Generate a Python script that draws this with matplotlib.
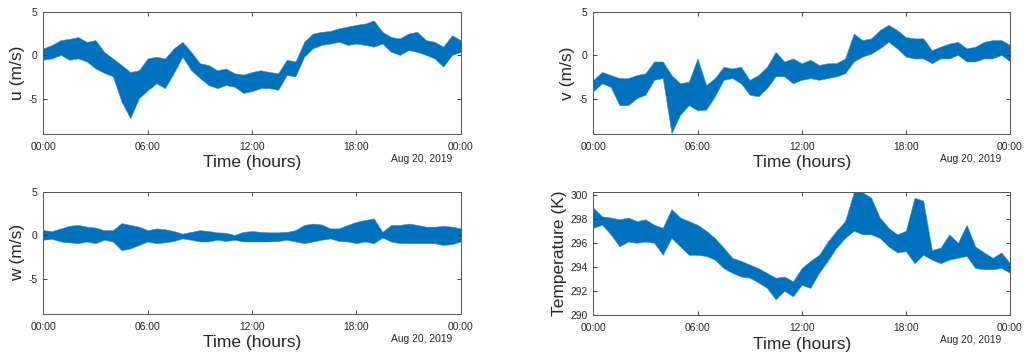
import numpy as np
import matplotlib
matplotlib.use("Agg")
import matplotlib.pyplot as plt

hours = np.arange(0, 24.5, 0.5)

u_hi = [0.8, 1.2, 1.75, 1.9, 2.1, 1.55, 1.75, 0.4, -0.35, -1.1, -1.9, -1.7, -0.35, -0.15, -0.35, 0.8, 1.55,
        0.4, -0.9, -1.1, -1.7, -1.5, -2.05, -2.2, -1.9, -1.7, -1.9, -2.05, -0.5, -0.7, 1.55, 2.5, 2.7, 2.8,
        3.1, 3.3, 3.5, 3.65, 4.0, 2.7, 2.1, 1.95, 2.5, 2.7, 1.75, 1.55, 1.0, 2.3, 1.75]
u_lo = [-0.5, -0.35, 0.05, -0.5, -0.35, -0.7, -1.5, -2.0, -2.4, -5.3, -7.2, -4.9, -4.0, -3.2, -3.75, -2.05,
        -0.15, -1.7, -2.6, -3.4, -3.75, -3.4, -3.6, -4.3, -4.1, -3.75, -3.75, -3.95, -2.25, -2.4, -0.15, 0.8,
        1.2, 1.35, 1.55, 1.2, 1.35, 1.2, 1.0, 1.35, 0.4, 0.05, 0.6, 0.4, 0.05, -0.35, -1.3, 0.05, 0.4]

v_hi = [-2.8, -1.9, -2.25, -2.6, -2.6, -2.25, -2.05, -0.7, -0.7, -2.25, -3.2, -3.0, -0.35, -3.4, -2.6, -1.3,
        -1.5, -1.3, -2.8, -2.25, -1.3, 0.4, -0.7, -0.35, -0.9, -0.5, -1.1, -0.9, -0.9, -0.35, 2.5, 1.75, 1.95,
        2.9, 3.5, 2.9, 2.1, 1.95, 1.95, 0.6, 1.0, 1.35, 1.55, 0.8, 1.0, 1.55, 1.75, 1.75, 1.2]
v_lo = [-4.1, -3.2, -3.6, -5.7, -5.7, -4.9, -4.5, -2.8, -2.6, -8.9, -6.8, -5.7, -6.3, -6.2, -4.7, -2.8, -2.6,
        -3.2, -4.5, -4.7, -3.75, -2.4, -2.4, -3.2, -2.8, -2.6, -2.8, -2.6, -2.4, -2.05, -0.7, -0.15, 0.2, 0.8,
        1.55, 0.8, -0.15, -0.35, -0.35, -0.9, -0.35, -0.35, 0.05, -0.7, -0.7, -0.35, -0.35, 0.05, -0.7]

w_hi = [0.6, 0.5, 0.8, 1.1, 1.2, 1.0, 0.9, 0.6, 0.6, 1.4, 1.2, 1.0, 0.6, 0.8, 0.7, 0.5, 0.2, 0.4, 0.6, 0.5,
        0.35, 0.3, 0.05, 0.4, 0.5, 0.4, 0.35, 0.35, 0.4, 0.6, 1.2, 1.35, 1.25, 0.8, 0.8, 1.2, 1.55, 1.75, 1.95,
        0.4, 1.2, 1.2, 1.35, 1.2, 1.0, 1.0, 1.1, 1.0, 0.8]
w_lo = [-0.5, -0.4, -0.7, -0.8, -0.9, -0.7, -0.9, -0.5, -0.7, -1.7, -1.5, -1.1, -0.7, -0.9, -0.8, -0.65,
        -0.35, -0.5, -0.7, -0.7, -0.5, -0.65, -0.5, -0.7, -0.7, -0.7, -0.7, -0.65, -0.5, -0.7, -0.9, -0.7,
        -0.5, -0.35, -0.65, -0.7, -0.9, -0.7, -0.9, -0.25, -0.7, -0.9, -0.9, -0.9, -0.9, -0.9, -1.1, -1.0, -0.7]

T_hi = [298.9, 298.2, 298.1, 297.95, 298.1, 297.8, 297.95, 297.5, 297.25, 298.8, 298.1, 297.8, 297.5, 297.0,
        296.4, 295.6, 294.75, 294.5, 294.2, 293.9, 293.5, 293.1, 293.2, 292.8, 293.9, 294.5, 295.0, 296.1,
        297.0, 297.8, 300.2, 300.2, 299.75, 298.1, 297.25, 296.7, 297.0, 299.75, 299.5, 295.4, 295.6, 296.7,
        296.0, 297.5, 295.7, 295.2, 294.75, 295.2, 294.3]
T_lo = [297.25, 297.5, 296.7, 295.7, 296.1, 296.0, 296.1, 296.0, 295.0, 296.4, 295.7, 295.0, 295.0, 294.9,
        294.6, 293.9, 293.5, 293.2, 293.1, 292.7, 292.25, 291.3, 292.0, 291.55, 292.5, 292.25, 293.5, 294.5,
        295.6, 296.4, 297.0, 296.7, 296.7, 296.4, 295.7, 295.2, 295.3, 294.3, 295.0, 294.6, 294.3, 294.6,
        294.75, 294.9, 293.9, 293.8, 293.8, 293.9, 293.5]

xtick_pos = [0, 6, 12, 18, 24]
xtick_labels = ["00:00", "06:00", "12:00", "18:00", "00:00"]
date_label = "Aug 20, 2019"

plt.rcParams['font.family'] = ['Liberation Sans', 'DejaVu Sans']
plt.rcParams['axes.unicode_minus'] = False

line_color = '#0072BD'
text_color = '#262626'

fig = plt.figure(figsize=(10.26, 3.6), dpi=100)

panels = [
    # left, bottom, width, height, lo, hi, ylabel, ylim, yticks, ylabel x
    ([0.0422, 0.6278, 0.4068, 0.3397], u_lo, u_hi, "u (m/s)", (-9, 5), [-5, 0, 5], -0.061),
    ([0.5783, 0.6278, 0.4061, 0.3397], v_lo, v_hi, "v (m/s)", (-9, 5), [-5, 0, 5], -0.061),
    ([0.0422, 0.1278, 0.4068, 0.3397], w_lo, w_hi, "w (m/s)", (-9, 5), [-5, 0, 5], -0.061),
    ([0.5783, 0.1250, 0.4061, 0.3410], T_lo, T_hi, "Temperature (K)", (290, 300.2),
     [290, 292, 294, 296, 298, 300], -0.082),
]

for rect, lo, hi, ylab, ylim, yticks, ylab_x in panels:
    ax = fig.add_axes(rect)
    ax.fill_between(hours, lo, hi, color=line_color, lw=0.4, edgecolor='#3f8fcf')
    ax.set_xlim(0, 24)
    ax.set_ylim(*ylim)
    ax.set_xticks(xtick_pos)
    ax.set_xticklabels(xtick_labels)
    ax.set_yticks(yticks)
    ax.set_yticklabels([str(t) for t in yticks])
    ax.tick_params(direction='in', length=3, width=0.6, top=True, right=True,
                   labelsize=7.4, colors=text_color, pad=4)
    ax.tick_params(axis='x', pad=6)
    for s in ax.spines.values():
        s.set_color('#555555')
        s.set_linewidth(0.7)
    ax.set_xlabel("Time (hours)", fontsize=12.5, color=text_color)
    ax.xaxis.set_label_coords(0.5, -0.237)
    ax.xaxis.label.set_va('center')
    ax.set_ylabel(ylab, fontsize=12.5, color=text_color)
    ax.yaxis.set_label_coords(ylab_x, 0.5)
    ax.yaxis.label.set_va('center')
    ax.text(0.979, -0.204, date_label, transform=ax.transAxes, ha='right', va='center',
            fontsize=7.4, color=text_color)

fig.savefig("out.png", dpi=100)
